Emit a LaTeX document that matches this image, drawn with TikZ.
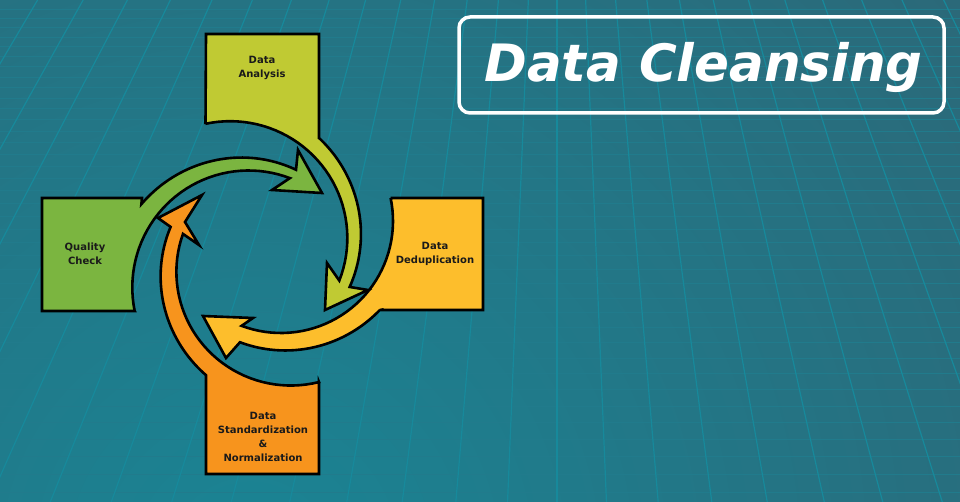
\documentclass[tikz,border=0pt]{standalone}
\usepackage{fontspec}
\setmainfont{DejaVu Sans}
\definecolor{bgin}{HTML}{1A8494}
\definecolor{bgout}{HTML}{2D6676}
\definecolor{gridv}{HTML}{17899B}
\definecolor{gridh}{HTML}{217B8C}
\definecolor{cA}{HTML}{C0CA33}
\definecolor{cB}{HTML}{FDBE2C}
\definecolor{cC}{HTML}{F7941D}
\definecolor{cD}{HTML}{7BB540}
\definecolor{txt}{HTML}{1A1A1A}
\tikzset{
  spiral/.style n args={6}{insert path={-- plot[domain=#3:#4,samples=40]
    ({#1+(#5+(#6-#5)*(\x-(#3))/((#4)-(#3)))*cos(\x)},{#2+(#5+(#6-#5)*(\x-(#3))/((#4)-(#3)))*sin(\x)})}},
  shapebox/.style={draw=black, line width=2.6pt, line join=miter},
  lbl/.style={text=txt, font=\bfseries\fontsize{10}{14}\selectfont, align=center, inner sep=0pt},
}
\begin{document}
\begin{tikzpicture}[x=1pt,y=-1pt]
\useasboundingbox (0,0) rectangle (960,502);
% background
\begin{scope}
\clip (0,0) rectangle (960,502);
\fill[bgout] (0,0) rectangle (960,502);
\shade[inner color=bgin, outer color=bgout] (250,560) circle (1000);
\foreach \n in {1,...,38}
  \draw[gridh, line width=0.7pt] (0,{480*(1.01875^\n-1)}) -- (960,{480*(1.01875^\n-1)});
\foreach \d in {-519.4,-473.85,-429.6,-386.65,-345,-304.65,-265.6,-227.85,-191.4,-156.25,-122.4,-89.85,-58.6,-28.65,0,28.65,58.6,89.85,122.4,156.25,191.4,227.85,265.6,304.65,345,386.65}
  \draw[gridv, line width=1.2pt] ({557+\d},0) -- ({557+\d+401.6*tanh(\d/550)},502);
\end{scope}
% Quality Check (green)
\draw[shapebox, fill=cD] (134.7,311) -- (42,311) -- (42,198) -- (142,198)
  [spiral={250}{286}{217}{291.6}{136}{125}] -- (298,150) -- (322,193) -- (272,190)
  [spiral={250}{286}{290.3}{167.8}{115}{118}] -- cycle;
% Standardization (orange)
\draw[shapebox, fill=cC] (319,382) -- (319,474) -- (206,474) -- (206,375.2)
  [spiral={289}{270}{128.3}{200}{134}{126}] -- (158,218) -- (202,195) -- (185,222) -- (199,245)
  [spiral={289}{270}{198.8}{75}{112}{116}] -- cycle;
% Deduplication (yellow)
\draw[shapebox, fill=cB] (390.6,198) -- (483,198) -- (483,310) -- (379.8,310)
  [spiral={281}{221}{42}{108.7}{133}{128}] -- (226,358) -- (203,316) -- (253,318)
  [spiral={281}{221}{110.6}{-11.85}{112}{112}] -- cycle;
% Analysis (yellow-green)
\draw[shapebox, fill=cA] (205.5,124) -- (206,34) -- (319,34) -- (319,138)
  [spiral={231}{239}{-48.9}{22}{134}{128}] -- (368,290) -- (325,310) -- (327,263)
  [spiral={231}{239}{21}{-102.5}{116}{118}] -- cycle;
% labels
\node[lbl] (tA) at (262,68) {Data\\Analysis};
\node[lbl] (tD) at (85,254) {Quality\\Check};
\node[lbl] (tB) at (435,254) {Data\\Deduplication};
\node[lbl] (tC) at (263,436.5) {Data\\Standardization\\\&\\Normalization};
% title
\node[draw=white, line width=3.5pt, rounded corners=11pt, minimum width=485pt, minimum height=96pt] (frame) at (701.5,65) {};
\node[text=white, font=\bfseries\itshape\fontsize{51.5}{56}\selectfont, anchor=base, inner sep=0pt] (title) at (703.5,82) {Data Cleansing};
\end{tikzpicture}
\end{document}
